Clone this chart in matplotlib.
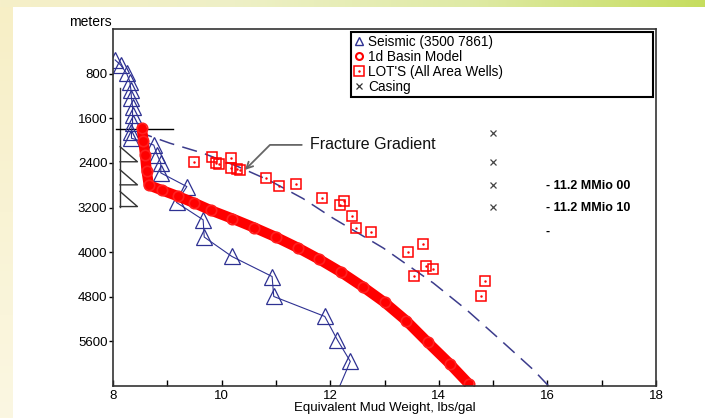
import numpy as np
import matplotlib.pyplot as plt
from matplotlib.lines import Line2D
from matplotlib.colors import LinearSegmentedColormap

plt.rcParams['font.family'] = ['Liberation Sans', 'DejaVu Sans']

# Seismic (3500 7861): mud weight (ppg) vs depth (m)
seis_mw = [8.04, 8.14, 8.25, 8.31, 8.33, 8.34, 8.36, 8.36, 8.36, 8.34, 8.34,
           8.75, 8.81, 8.88, 8.88, 9.36, 9.17, 9.66, 9.68, 10.19, 10.93, 10.96,
           11.90, 12.13, 12.37, 12.0]
seis_depth = [555, 645, 794, 944, 1093, 1241, 1391, 1540, 1689, 1839, 1958,
              2080, 2250, 2400, 2580, 2825, 3110, 3421, 3730, 4078, 4437, 4795,
              5153, 5570, 5959, 6800]

# 1d basin model
basin_mw = [8.53, 8.56, 8.59, 8.62, 8.66, 8.9, 9.2, 9.5, 9.8, 10.2, 10.6, 11.0,
            11.4, 11.8, 12.2, 12.6, 13.0, 13.4, 13.8, 14.2, 14.55]
basin_depth = [1780, 2000, 2250, 2550, 2800, 2890, 3000, 3120, 3250, 3400, 3560,
               3730, 3920, 4130, 4360, 4620, 4900, 5230, 5620, 6000, 6360]

# LOT's (all area wells)
lot_mw = [9.49, 9.83, 9.89, 9.95, 10.17, 10.17, 10.29, 10.33, 10.81, 11.05, 11.37,
          11.85, 12.25, 12.18, 12.41, 12.47, 12.76, 13.43, 13.71, 13.77, 13.89,
          13.55, 14.85, 14.77]
lot_depth = [2388, 2298, 2410, 2415, 2311, 2490, 2505, 2522, 2670, 2806, 2776,
             3033, 3080, 3160, 3344, 3559, 3648, 4006, 3855, 4250, 4299,
             4424, 4526, 4795]

# fracture gradient trend (dashed)
frac_mw = [8.45, 9.05, 9.66, 10.3, 10.89, 11.5, 12.05, 12.98, 13.9, 14.51, 15.13, 15.74, 16.1]
frac_depth = [1840, 2048, 2227, 2466, 2720, 3040, 3390, 3928, 4555, 5033, 5570, 6108, 6480]

# casing
casing_mw = [15.0, 15.0, 15.0, 15.0]
casing_depth = [1870, 2376, 2794, 3194]
shoe_depth = [2380, 2794, 3183]
casing_top = 1050
hanger_depth = 1797
casing_labels = ['- 11.2 MMio 00', '- 11.2 MMio 10', '-']
label_depth = [2812, 3212, 3641]

legend_labels = ['Seismic (3500 7861)', '1d Basin Model', "LOT'S (All Area Wells)", 'Casing']

navy = '#2e3192'

fig = plt.figure(figsize=(7.05, 4.18), dpi=100)
fig.patch.set_facecolor('white')

# slide border strips
top = fig.add_axes([0, 1 - 7 / 418, 1, 7 / 418])
top.imshow(np.linspace(0, 1, 256).reshape(1, -1), aspect='auto',
           cmap=LinearSegmentedColormap.from_list('t', ['#f6efc9', '#eef0c6', '#dfeaa6', '#c6dd5e']))
top.axis('off')
left = fig.add_axes([0, 0, 13 / 705, 1 - 7 / 418])
left.imshow(np.linspace(0, 1, 256).reshape(-1, 1), aspect='auto',
            cmap=LinearSegmentedColormap.from_list('l', ['#f7efc6', '#fbf7e2']))
left.axis('off')

ax = fig.add_axes([113 / 705, 1 - 386 / 418, 543 / 705, 357 / 418])

# casing shoes on the left
shoe_x, shoe_w, shoe_h = 8.13, 0.32, 270
ax.plot([shoe_x, shoe_x], [casing_top, shoe_depth[-1]], color='#333333', lw=1)
for d in shoe_depth:
    ax.plot([shoe_x, shoe_x + shoe_w, shoe_x], [d - shoe_h, d, d], color='#333333', lw=1)
ax.plot([8.06, 9.11], [hanger_depth, hanger_depth], color='black', lw=1)

# seismic
ax.plot(seis_mw, seis_depth, color=navy, lw=0.8, marker='^', ms=12,
        mfc='none', mec=navy, mew=0.9)

# fracture gradient
ax.plot(frac_mw, frac_depth, color='#3c3c8c', lw=1.1, dashes=(10, 5.5), clip_on=False)

# basin model
ax.plot(basin_mw, basin_depth, color='red', lw=7.5, solid_joinstyle='round', solid_capstyle='round')
ax.plot(basin_mw, basin_depth, ls='none', marker='o', ms=7.5, mfc='none', mec='#ff2020', mew=1.2)

# LOTs
ax.plot(lot_mw, lot_depth, ls='none', marker='s', ms=7, mfc='none', mec='red', mew=1.1)
ax.plot(lot_mw, lot_depth, ls='none', marker='.', ms=1.5, color='red')

# casing points + labels
ax.plot(casing_mw, casing_depth, ls='none', marker='x', ms=5, mec='#444444', mew=0.9)
for d, t in zip(label_depth, casing_labels):
    ax.text(15.97, d, t, fontsize=9, fontweight='bold', va='center', ha='left')

ax.annotate('Fracture Gradient', xy=(10.43, 2526), xytext=(11.63, 2078),
            fontsize=11.5, va='center', ha='left', color='#111111',
            arrowprops=dict(arrowstyle='->', color='#666666', lw=1.3,
                            connectionstyle='angle,angleA=0,angleB=45,rad=0',
                            relpos=(0, 0.5), shrinkA=4, shrinkB=0))

ax.set_xlim(8, 18)
ax.set_ylim(6400, 0)
ax.set_xticks([8, 10, 12, 14, 16, 18])
ax.set_xticks([9, 11, 13, 15, 17], minor=True)
ax.tick_params(axis='x', which='both', direction='in', length=4, width=1, labelsize=9.5, pad=3)
ax.set_yticks([800, 1600, 2400, 3200, 4000, 4800, 5600])
ax.tick_params(axis='y', direction='out', length=3, width=1, labelsize=9.5, pad=1)
ax.set_xlabel('Equivalent Mud Weight, lbs/gal', fontsize=9.5, labelpad=0)
for s in ax.spines.values():
    s.set_linewidth(1.2)
    s.set_color('#333333')
fig.text(112 / 705, 1 - 22 / 418, 'meters', ha='right', va='center', fontsize=10)

handles = [
    Line2D([], [], ls='none', marker='^', ms=6, mfc='none', mec=navy, mew=1),
    Line2D([], [], ls='none', marker='o', ms=5, mfc='none', mec='red', mew=1.5),
    (Line2D([], [], ls='none', marker='s', ms=7, mfc='none', mec='red', mew=1.1),
     Line2D([], [], ls='none', marker='.', ms=1.5, color='red')),
    Line2D([], [], ls='none', marker='x', ms=5, mec='#333333', mew=0.9),
]
leg = ax.legend(handles, legend_labels, loc='upper left', bbox_to_anchor=(0.438, 0, 0.556, 0.991),
                mode='expand', fontsize=9.8, fancybox=False, edgecolor='black', framealpha=1,
                borderpad=0.2, labelspacing=0.08, handlelength=0.8, handletextpad=0.25,
                borderaxespad=0)
leg.get_frame().set_linewidth(1.5)

fig.savefig('out.png', dpi=100)
